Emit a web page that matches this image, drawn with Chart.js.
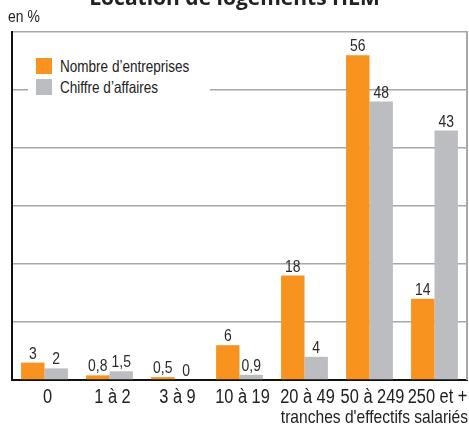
<!DOCTYPE html>
<html lang="fr">
<head>
<meta charset="utf-8">
<title>Location de logements HLM</title>
<script src="https://cdn.jsdelivr.net/npm/chart.js@4/dist/chart.umd.min.js"></script>
<style>
  html, body { margin: 0; padding: 0; background: #fff; }
  #wrap { position: relative; width: 469px; height: 426px; overflow: hidden; }
  #chart { position: absolute; left: 0; top: 0; }
  #title {
    position: absolute; left: 0; top: -13px; width: 469px; text-align: center;
    font: bold 21px "Open Sans", sans-serif; color: #222; line-height: 1; white-space: nowrap;
  }
  .narrow {
    display: inline-block; transform: scaleX(0.82); transform-origin: 0 50%;
    font-family: "Liberation Sans", Arial, sans-serif; white-space: nowrap;
  }
  #unit { position: absolute; left: 8px; top: 7px; font-size: 17px; color: #222; line-height: 20px; }
  #legend {
    position: absolute; left: 28px; top: 55px; width: 182px; height: 44px; background: #fff;
    font-size: 16.5px; color: #222;
  }
  #legend .item { position: absolute; left: 8px; height: 16px; line-height: 16px; white-space: nowrap; }
  #legend .sw { display: inline-block; width: 16px; height: 16px; vertical-align: top; margin-right: 8px; }
</style>
</head>
<body>
<div id="wrap">
  <canvas id="chart" width="469" height="426"></canvas>
  <div id="title">Location de logements HLM</div>
  <div id="unit"><span class="narrow">en %</span></div>
  <div id="legend">
    <div class="item" style="top:3px"><span class="sw" id="sw0"></span><span class="narrow" id="lg0"></span></div>
    <div class="item" style="top:24px"><span class="sw" id="sw1"></span><span class="narrow" id="lg1"></span></div>
  </div>
</div>
<script>
// Tranches d'effectifs salariés
const categories = ["0", "1 à 2", "3 à 9", "10 à 19", "20 à 49", "50 à 249", "250 et +"];
// Part (en %) par tranche
const nombreEntreprises = [3, 0.8, 0.5, 6, 18, 56, 14];
const chiffreAffaires = [2, 1.5, 0, 0.9, 4, 48, 43];
const seriesNames = ["Nombre d’entreprises", "Chiffre d’affaires"];
const seriesColors = ["#f7931e", "#bcbdc0"];
const axisTitle = "tranches d'effectifs salariés";

const FONT = '"Liberation Sans", Arial, sans-serif';
const SQUEEZE = 0.82;   // narrow-sans look

// Legend (HTML, drawn inside the plot area)
seriesNames.forEach((n, i) => {
  document.getElementById('lg' + i).textContent = n;
  document.getElementById('sw' + i).style.background = seriesColors[i];
});

const fmt = v => String(v).replace('.', ',');

// Draws condensed text at (x, y)
function narrowText(ctx, text, x, y, size, align) {
  ctx.save();
  ctx.font = size + 'px ' + FONT;
  ctx.textAlign = align;
  ctx.textBaseline = 'alphabetic';
  ctx.translate(x, y);
  ctx.scale(SQUEEZE, 1);
  ctx.fillText(text, 0, 0);
  ctx.restore();
}

// Value written above each bar
const valueLabels = {
  id: 'valueLabels',
  afterDatasetsDraw(chart) {
    const ctx = chart.ctx;
    chart.data.datasets.forEach((ds, di) => {
      chart.getDatasetMeta(di).data.forEach((bar, i) => {
        ctx.fillStyle = '#2a2a2a';
        narrowText(ctx, fmt(ds.data[i]), bar.x, bar.y - 4, 17, 'center');
      });
    });
  }
};

// Category labels and axis title under the x axis
const xAxisText = {
  id: 'xAxisText',
  afterDraw(chart) {
    const ctx = chart.ctx;
    const xs = chart.scales.x;
    const a = chart.chartArea;
    ctx.fillStyle = '#222';
    chart.data.labels.forEach((lab, i) => {
      narrowText(ctx, lab, xs.getPixelForTick(i) + 3, a.bottom + 23, 20, 'center');
    });
    narrowText(ctx, axisTitle, a.right + 1, a.bottom + 43, 19, 'right');
  }
};

// Grey right edge of the plot frame
const frameRight = {
  id: 'frameRight',
  beforeDatasetsDraw(chart) {
    const a = chart.chartArea;
    const ctx = chart.ctx;
    ctx.save();
    ctx.strokeStyle = '#a8a8a8';
    ctx.lineWidth = 2;
    ctx.beginPath();
    ctx.moveTo(a.right, a.top - 1);
    ctx.lineTo(a.right, a.bottom);
    ctx.stroke();
    ctx.restore();
  }
};

new Chart(document.getElementById('chart'), {
  type: 'bar',
  data: {
    labels: categories,
    datasets: [
      { label: seriesNames[0], data: nombreEntreprises, backgroundColor: seriesColors[0] },
      { label: seriesNames[1], data: chiffreAffaires, backgroundColor: seriesColors[1] }
    ]
  },
  options: {
    responsive: false,
    animation: false,
    devicePixelRatio: 1,
    layout: { padding: { left: 12, right: 2, top: 32, bottom: 46 } },
    datasets: { bar: { barPercentage: 1, categoryPercentage: 0.72 } },
    plugins: { legend: { display: false }, tooltip: { enabled: false } },
    scales: {
      x: {
        grid: { display: false, drawTicks: false },
        border: { color: '#111', width: 2 },
        ticks: { display: false }
      },
      y: {
        min: 0, max: 60,
        ticks: { stepSize: 10, display: false },
        grid: { color: '#a8a8a8', lineWidth: 1.5, drawTicks: false },
        border: { color: '#111', width: 2 }
      }
    }
  },
  plugins: [frameRight, valueLabels, xAxisText]
});
</script>
</body>
</html>
